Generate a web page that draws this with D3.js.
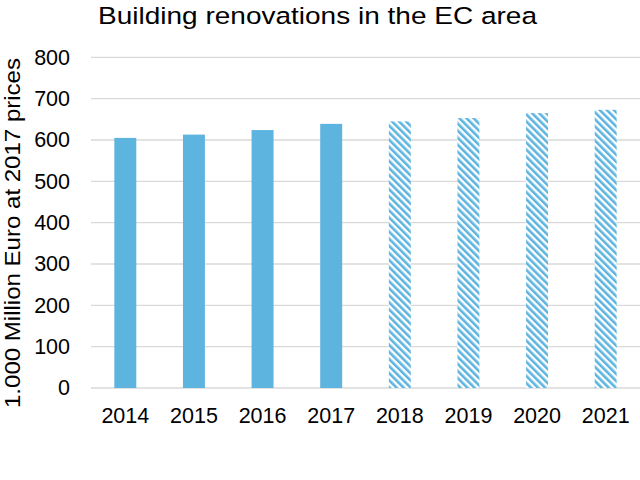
<!DOCTYPE html>
<html><head><meta charset="utf-8">
<script src="https://cdn.jsdelivr.net/npm/d3@7/dist/d3.min.js"></script>
<style>body{margin:0;background:#fff;}svg{display:block;font-family:"Liberation Sans",Arial,sans-serif;}</style>
</head><body>
<script>
const years = ["2014","2015","2016","2017","2018","2019","2020","2021"];
const values = [605, 613, 624, 639, 645, 653, 665, 673];
const forecast = [false,false,false,false,true,true,true,true];
const yTicks = [0,100,200,300,400,500,600,700,800];
const title = "Building renovations in the EC area";
const yTitle = "1.000 Million Euro at 2017 prices";

const W=640,H=480;
const m={left:91,right:0,top:57.3,bottom:92};
const svg=d3.select("body").append("svg").attr("width",W).attr("height",H);
const defs=svg.append("defs");
const pat=defs.append("pattern").attr("id","hatch").attr("patternUnits","userSpaceOnUse")
  .attr("width",5).attr("height",5).attr("patternTransform","rotate(-45)");
pat.append("rect").attr("width",5).attr("height",5).attr("fill","#fff");
pat.append("rect").attr("width",2.6).attr("height",5).attr("fill","#5DB4DE");

const x=d3.scaleBand().domain(years).range([m.left,W-m.right]).paddingInner(0.68).paddingOuter(0.34);
const y=d3.scaleLinear().domain([0,800]).range([H-m.bottom,m.top]);

svg.append("g").selectAll("line").data(yTicks).join("line")
  .attr("x1",m.left).attr("x2",W).attr("y1",d=>y(d)).attr("y2",d=>y(d))
  .attr("stroke","#d9d9d9").attr("stroke-width",1.3);

svg.append("g").selectAll("rect").data(years).join("rect")
  .attr("x",d=>x(d)).attr("width",x.bandwidth())
  .attr("y",(d,i)=>y(values[i])).attr("height",(d,i)=>y(0)-y(values[i]))
  .attr("fill",(d,i)=>forecast[i]?"url(#hatch)":"#5DB4DE");

const yAxis=d3.axisLeft(y).tickValues(yTicks).tickSize(0).tickPadding(21);
const ga=svg.append("g").attr("transform",`translate(${m.left},0)`).call(yAxis);
ga.select(".domain").remove();
ga.selectAll("text").attr("font-size",21.5).attr("fill","#000").attr("font-family","Liberation Sans, Arial, sans-serif");

const xAxis=d3.axisBottom(x).tickSize(0).tickPadding(19.5);
const gx=svg.append("g").attr("transform",`translate(0,${y(0)})`).call(xAxis);
gx.select(".domain").remove();
gx.selectAll("text").attr("font-size",21.5).attr("fill","#000").attr("font-family","Liberation Sans, Arial, sans-serif");

svg.append("text").attr("x",317.5).attr("y",24).attr("text-anchor","middle")
  .attr("font-size",24.5).attr("fill","#000")
  .attr("textLength",439).attr("lengthAdjust","spacingAndGlyphs").text(title);

svg.append("text").attr("transform",`translate(19.5,233) rotate(-90)`)
  .attr("text-anchor","middle").attr("font-size",22).attr("fill","#000")
  .attr("textLength",350).attr("lengthAdjust","spacingAndGlyphs").text(yTitle);
</script>
</body></html>
